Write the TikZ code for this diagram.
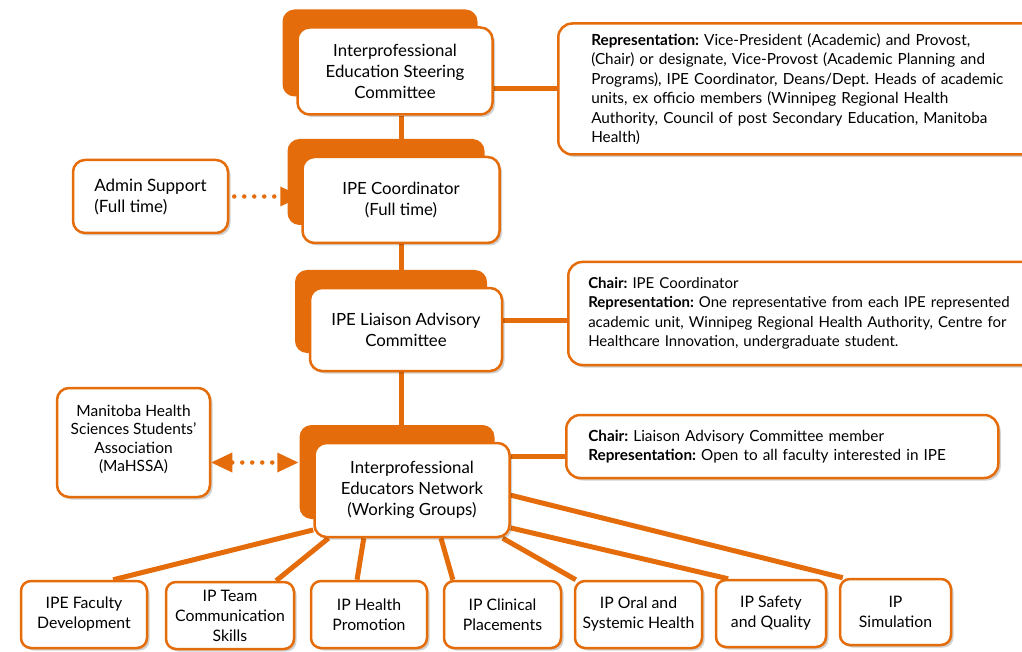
\documentclass[tikz,border=0pt]{standalone}
\usepackage{fontspec}
\setmainfont{Lato}
\usepackage{xcolor}
\usetikzlibrary{shadows,arrows.meta,backgrounds}
\definecolor{ieorange}{RGB}{228,108,10}
\frenchspacing

\tikzset{
  softshadow/.style={drop shadow={opacity=0.18, fill=black, shadow xshift=2.5pt, shadow yshift=-2.5pt}},
  mainbox/.style={draw=ieorange, line width=2.5pt, fill=white, rounded corners=12pt,
    align=center, font=\fontsize{16.8}{21}\selectfont,
    general shadow={fill=ieorange, shadow xshift=-15pt, shadow yshift=18pt},
    softshadow},
  sidebox/.style={draw=ieorange, line width=2.5pt, fill=white, rounded corners=12pt,
    font=\fontsize{15.5}{18.5}\selectfont, softshadow},
  repbox/.style={draw=ieorange, line width=2.5pt, fill=white, rounded corners=14pt,
    align=left, anchor=west, font=\fontsize{15.3}{19.5}\selectfont, softshadow},
  groupbox/.style={draw=ieorange, line width=2.5pt, fill=white, rounded corners=10pt,
    align=center, font=\fontsize{15.8}{20}\selectfont, softshadow},
  link/.style={ieorange, line width=5pt},
  dotlink/.style={ieorange, line width=4.5pt, line cap=round, dash pattern=on 0pt off 10pt},
  tip/.tip={Triangle[length=21pt,width=20pt,line width=0pt]}
}

\begin{document}
\begin{tikzpicture}[x=1pt,y=-1pt]
    \useasboundingbox (0,0) rectangle (1022,652);

    % main chain
    \node[mainbox,minimum width=195pt,minimum height=87pt] (steer) at (395,71)
        {Interprofessional\\Education Steering\\Committee};
    \node[mainbox,minimum width=197pt,minimum height=86pt] (coord) at (401,200)
        {IPE Coordinator\\(Full time)};
    \node[mainbox,minimum width=192pt,minimum height=83pt] (liaison) at (406,329.5)
        {IPE Liaison Advisory\\Committee};
    \node[mainbox,minimum width=195pt,minimum height=94pt] (network) at (412,490)
        {Interprofessional\\Educators Network\\(Working Groups)};
    \coordinate (trunk) at (401,0);

    % representation boxes
    \node[repbox,text width=440pt,inner xsep=33pt,minimum height=131pt] (steerrep) at (557,89)
        {\textbf{Representation:} Vice-President (Academic) and Provost,\\
         (Chair) or designate, Vice-Provost (Academic Planning and\\
         Programs), IPE Coordinator, Deans/Dept. Heads of academic\\
         units, ex officio members (Winnipeg Regional Health\\
         Authority, Council of post Secondary Education, Manitoba\\
         Health)};
    \node[repbox,font=\fontsize{15}{19.5}\selectfont,text width=440pt,inner xsep=20pt,minimum height=103pt] (liaisonrep) at (567,313.5)
        {\textbf{Chair:} IPE Coordinator\\
         \textbf{Representation:} One representative from each IPE represented\\
         academic unit, Winnipeg Regional Health Authority, Centre for\\
         Healthcare Innovation, undergraduate student.};
    \node[repbox,text width=388pt,inner xsep=22pt,minimum height=63pt] (networkrep) at (565,446.5)
        {\textbf{Chair:} Liaison Advisory Committee member\\
         \textbf{Representation:} Open to all faculty interested in IPE};

    % left boxes
    \node[sidebox,align=left,font=\fontsize{17}{21}\selectfont,minimum width=155pt,minimum height=73pt] (admin) at (150.5,196.5)
        {Admin Support\\(Full time)};
    \node[sidebox,align=center,minimum width=153pt,minimum height=109pt] (mahssa) at (133.5,442.5)
        {Manitoba Health\\Sciences Students'\\Association\\(MaHSSA)\\[-10pt]};

    % working groups
    \node[groupbox,minimum width=126pt,minimum height=67pt] (faculty) at (84,614.5)
        {IPE Faculty\\Development};
    \node[groupbox,minimum width=128pt,minimum height=67pt] (team) at (230,615.5)
        {IP Team\\Communication\\Skills};
    \node[groupbox,minimum width=116pt,minimum height=67pt] (health) at (369,614.5)
        {IP Health\\Promotion};
    \node[groupbox,minimum width=117pt,minimum height=67pt] (clinical) at (502.5,614.5)
        {IP Clinical\\Placements};
    \node[groupbox,minimum width=127pt,minimum height=67pt] (oral) at (638.5,614.5)
        {IP Oral and\\Systemic Health};
    \node[groupbox,minimum width=110pt,minimum height=67pt] (safety) at (771,613.5)
        {IP Safety\\and Quality};
    \node[groupbox,minimum width=111pt,minimum height=66pt] (simulation) at (895.5,612)
        {IP\\Simulation};

    \begin{scope}[on background layer]
    \draw[link] (steer.south -| trunk) -- (coord.north -| trunk);
    \draw[link] (coord.south -| trunk) -- (liaison.north -| trunk);
    \draw[link] (liaison.south -| trunk) -- (network.north -| trunk);
    \draw[link] (steerrep.west) -- (steerrep.west -| steer.east);
    \draw[link] ([yshift=-7pt]liaisonrep.west) -- ([yshift=-7pt]liaisonrep.west -| liaison.east);
    \draw[link] ([yshift=-10pt]networkrep.west) -- ([yshift=-10pt]networkrep.west -| network.east);
    \draw[link] (network.202) -- (faculty.50);
    \draw[link] (network.210) -- (team.37);
    \draw[link] (network.225) -- (health.109);
    \draw[link] (network.301) -- (clinical.145);
    \draw[link] (network.332) -- (oral.151);
    \draw[link] (network.339) -- (safety.141);
    \draw[link] (network.357) -- (simulation.147);
    \end{scope}

    \draw[dotlink,-tip,shorten <=5pt] (admin.east) -- (admin.east -| coord.west);
    \draw[dotlink,tip-tip,shorten >=15pt] ([yshift=-20pt]mahssa.east) -- ([yshift=-20pt]mahssa.east -| network.west);
\end{tikzpicture}
\end{document}
